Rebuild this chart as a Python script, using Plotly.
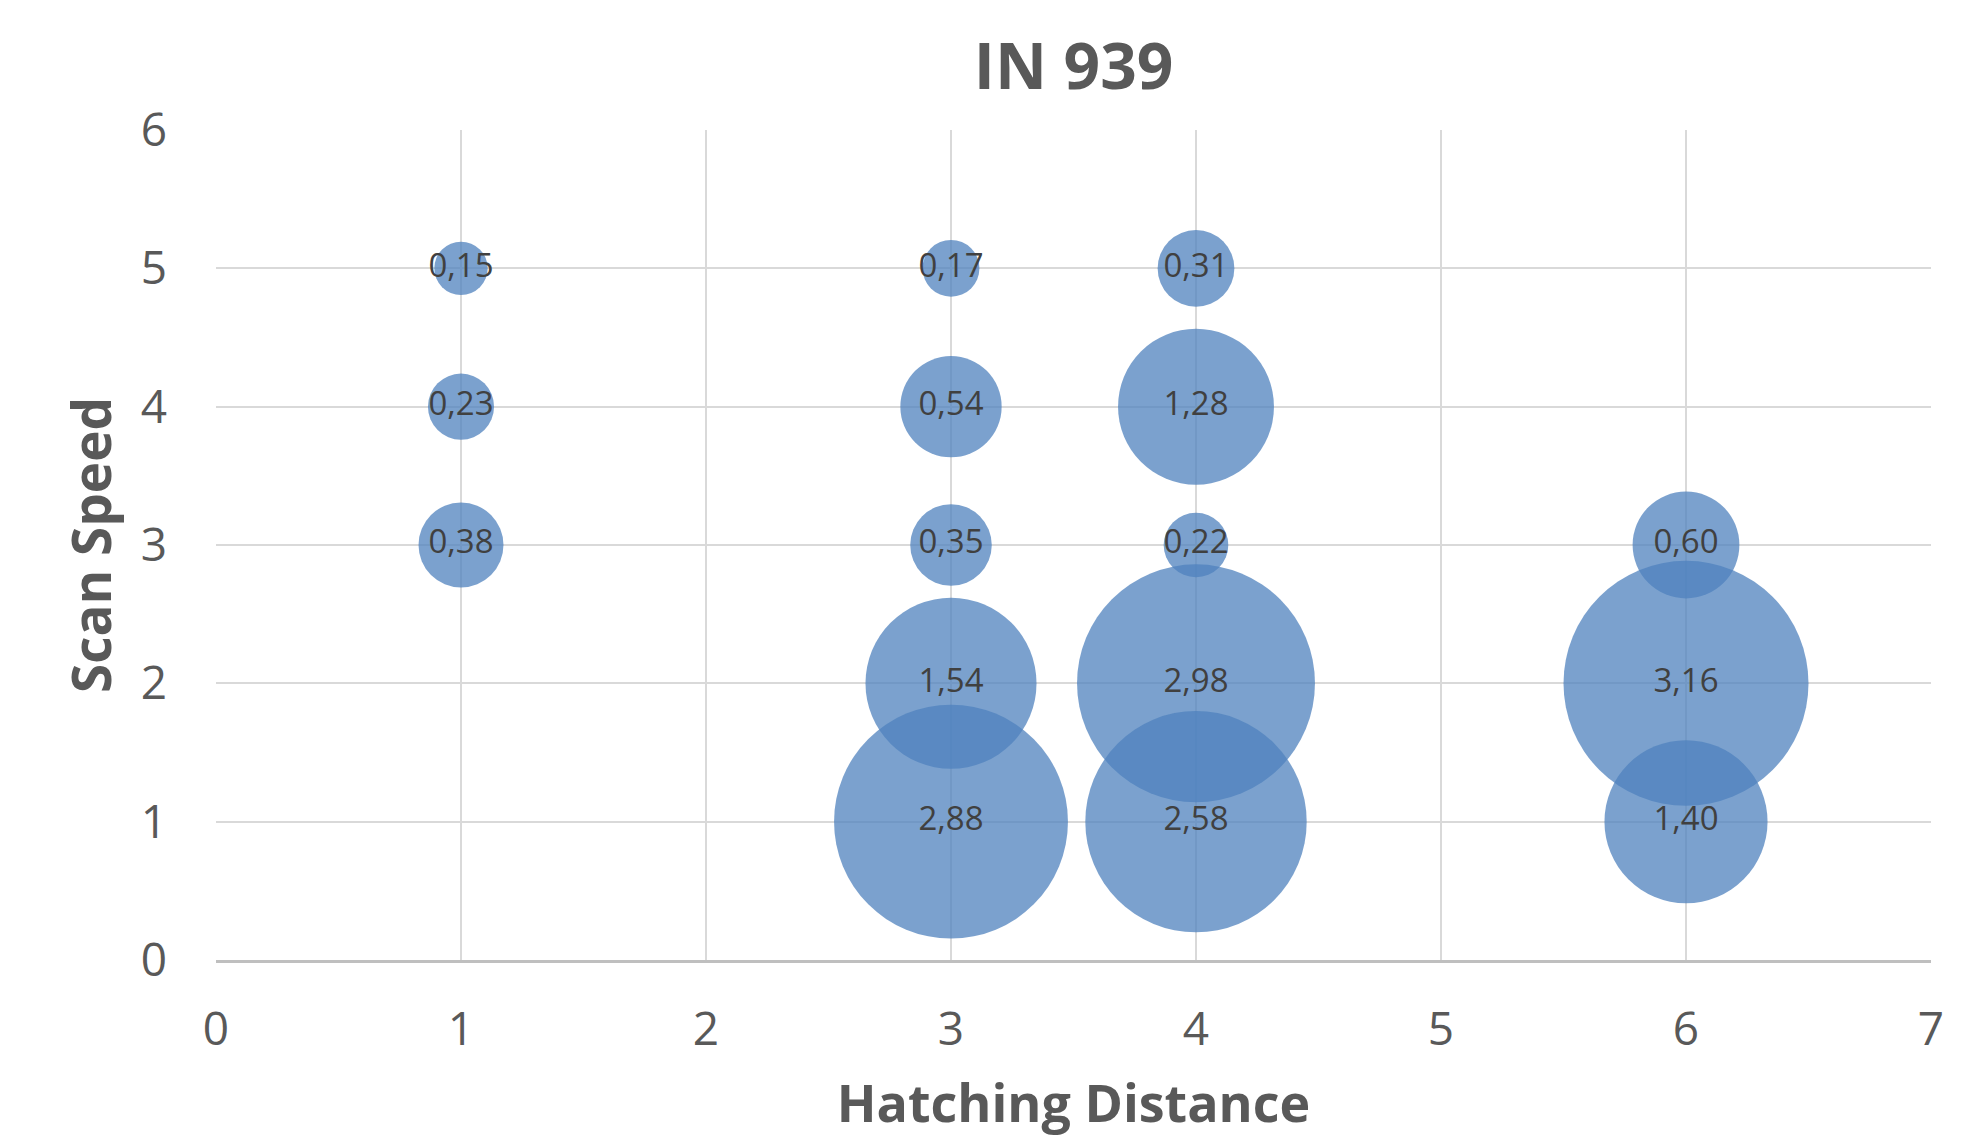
import plotly.graph_objects as go

# ── Data ──────────────────────────────────────────────────────────────────────
hatching = [1, 1, 1, 3, 3, 3, 3, 3, 4, 4, 4, 4, 4, 6, 6, 6]
scan_speed = [5, 4, 3, 5, 4, 3, 2, 1, 5, 4, 3, 2, 1, 3, 2, 1]
values = [0.15, 0.23, 0.38, 0.17, 0.54, 0.35, 1.54, 2.88,
          0.31, 1.28, 0.22, 2.98, 2.58, 0.60, 3.16, 1.40]

x_ticks = [0, 1, 2, 3, 4, 5, 6, 7]
y_ticks = [0, 1, 2, 3, 4, 5, 6]

# ── Style ─────────────────────────────────────────────────────────────────────
BUBBLE = "#4F81BD"
GRID = "#D9D9D9"
AXIS_TXT = "#595959"
LABEL_TXT = "#404040"
FONT = "Open Sans, sans-serif"
MAX_DIAM = 245  # px diameter of the largest bubble

labels = [f"{v:.2f}".replace(".", ",") for v in values]

fig = go.Figure()
fig.add_trace(go.Scatter(
    x=hatching, y=scan_speed,
    mode="markers+text",
    text=labels,
    textposition="middle center",
    textfont=dict(family=FONT, size=33, color=LABEL_TXT),
    marker=dict(
        size=values,
        sizemode="area",
        sizeref=2 * max(values) / MAX_DIAM ** 2,
        color=BUBBLE,
        opacity=0.75,
        line=dict(width=0),
    ),
    hovertemplate="Hatching: %{x}<br>Scan speed: %{y}<br>Value: %{text}<extra></extra>",
    showlegend=False,
    cliponaxis=False,
))

# page body has an 8px margin, so the figure is sized to fit inside it
fig.update_layout(
    width=1965, height=1129,
    paper_bgcolor="white",
    plot_bgcolor="white",
    font=dict(family=FONT, color=AXIS_TXT),
    margin=dict(l=208, r=42, t=122, b=177, autoexpand=False),
    title=dict(
        text="<b>IN 939</b>",
        font=dict(family=FONT, size=64, color=AXIS_TXT),
        x=0.5, xanchor="center", xref="paper",
        y=1 - 59 / 1129, yanchor="middle",
    ),
    xaxis=dict(
        range=[0, 7],
        tickvals=x_ticks,
        showgrid=True, gridcolor=GRID, gridwidth=2,
        zeroline=False,
        showline=True, linecolor="#BFBFBF", linewidth=3, mirror=False,
        ticks="", ticklabelstandoff=27,
        tickfont=dict(family=FONT, size=46, color=AXIS_TXT),
        title=dict(text="<b>Hatching Distance</b>",
                   font=dict(family=FONT, size=52, color=AXIS_TXT),
                   standoff=36),
        automargin=False,
        fixedrange=True,
    ),
    yaxis=dict(
        range=[0, 6],
        tickvals=y_ticks,
        showgrid=True, gridcolor=GRID, gridwidth=2,
        zeroline=False,
        showline=False,
        ticks="", ticklabelstandoff=48,
        tickfont=dict(family=FONT, size=46, color=AXIS_TXT),
        title=dict(text="<b>Scan Speed</b>",
                   font=dict(family=FONT, size=53, color=AXIS_TXT),
                   standoff=12),
        automargin=False,
        fixedrange=True,
    ),
)

fig.write_html("out.html")
